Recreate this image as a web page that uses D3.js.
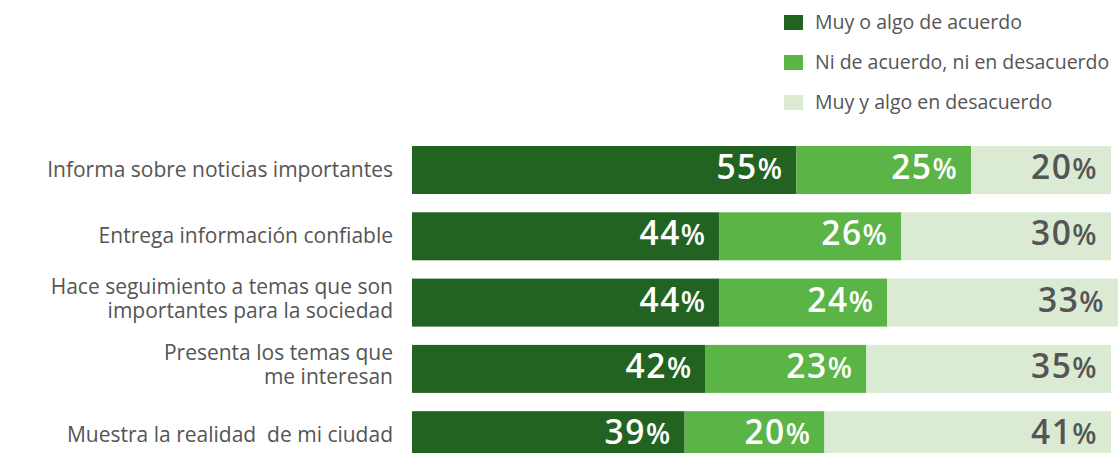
<!DOCTYPE html>
<html><head><meta charset="utf-8">
<script src="https://cdn.jsdelivr.net/npm/d3@7"></script>
<style>body{margin:0;background:#fff;}svg{display:block;}</style>
</head><body>
<svg id="chart" width="1119" height="453"></svg>
<script>
const categories = [
  ["Informa sobre noticias importantes"],
  ["Entrega información confiable"],
  ["Hace seguimiento a temas que son", "importantes para la sociedad"],
  ["Presenta los temas que", "me interesan"],
  ["Muestra la realidad  de mi ciudad"]
];
const seriesNames = ["Muy o algo de acuerdo", "Ni de acuerdo, ni en desacuerdo", "Muy y algo en desacuerdo"];
const acuerdo = [55, 44, 44, 42, 39];
const neutral = [25, 26, 24, 23, 20];
const desacuerdo = [20, 30, 33, 35, 41];
const colors = ["#226321", "#5ab446", "#dbebd3"];
const textColors = ["#ffffff", "#ffffff", "#555555"];

const svg = d3.select("#chart");
const font = "'Open Sans', sans-serif";

const x = d3.scaleLinear().domain([0, 100]).range([412, 1111]);
const y = d3.scaleBand().domain(d3.range(categories.length)).range([146, 459.2]).paddingInner(0.276).paddingOuter(0);

const rows = categories.map((c, i) => ({i, vals: [acuerdo[i], neutral[i], desacuerdo[i]]}));
const stack = rows.map(r => {
  let acc = 0;
  return r.vals.map((v, k) => { const s = {i: r.i, k, v, x0: acc, x1: acc + v}; acc += v; return s; });
}).flat();

svg.selectAll("rect.seg").data(stack).join("rect")
  .attr("class", "seg")
  .attr("x", d => x(d.x0))
  .attr("width", d => x(d.x1) - x(d.x0))
  .attr("y", d => y(d.i))
  .attr("height", y.bandwidth())
  .attr("fill", d => colors[d.k]);

const lbl = svg.selectAll("text.val").data(stack).join("text")
  .attr("class", "val")
  .attr("x", d => x(d.x1) - 13)
  .attr("y", d => y(d.i) + y.bandwidth() / 2 + 9)
  .attr("text-anchor", "end")
  .attr("font-family", font)
  .attr("font-weight", 600)
  .attr("letter-spacing", 1.5)
  .attr("fill", d => textColors[d.k]);
lbl.append("tspan").attr("font-size", 33.5).text(d => d.v);
lbl.append("tspan").attr("font-size", 28).text("%");

// category labels
const cat = svg.selectAll("text.cat").data(categories).join("text")
  .attr("class", "cat")
  .attr("text-anchor", "end")
  .attr("font-family", font)
  .attr("font-size", 21)
  .attr("fill", "#555555")
  .style("white-space", "pre");
cat.each(function(lines, i) {
  const cy = y(i) + y.bandwidth() / 2;
  const lh = 24;
  const start = lines.length > 1 ? cy - (lines.length - 1) * lh / 2 + 3 : cy + 7;
  d3.select(this).selectAll("tspan").data(lines).join("tspan")
    .attr("x", 393)
    .attr("y", (l, j) => start + j * lh)
    .text(l => l);
});

// legend
const leg = svg.selectAll("g.leg").data(seriesNames).join("g")
  .attr("class", "leg")
  .attr("transform", (d, i) => `translate(784, ${15 + i * 40})`);
leg.append("rect").attr("width", 19).attr("height", 15).attr("fill", (d, i) => colors[i]);
leg.append("text").attr("x", 31).attr("y", 14)
  .attr("font-family", font).attr("font-size", 19.5).attr("fill", "#555555")
  .text(d => d);
</script>
</body></html>
